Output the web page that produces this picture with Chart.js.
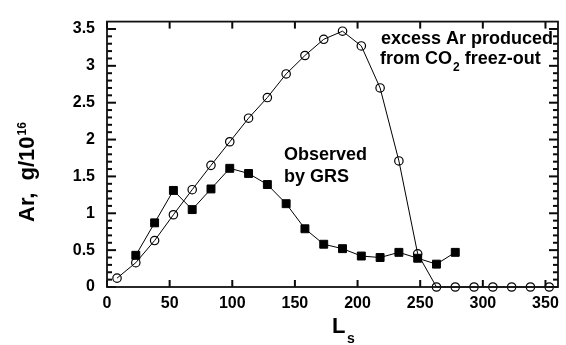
<!DOCTYPE html>
<html>
<head>
<meta charset="utf-8">
<script src="https://cdn.jsdelivr.net/npm/chart.js@4/dist/chart.umd.min.js"></script>
<style>
html,body{margin:0;padding:0;background:#fff;}
canvas{display:block;}
</style>
</head>
<body>
<canvas id="c" width="566" height="345"></canvas>
<script>
// Data
const lsExcess = [8,23,38,53,68,83,98,113,128,143,158,173,188,203,218,233,248,263,278,293,308,323,338,353];
const arExcess = [0.12,0.33,0.63,0.98,1.32,1.65,1.97,2.29,2.57,2.89,3.14,3.36,3.47,3.27,2.70,1.71,0.45,0,0,0,0,0,0,0];
const lsGRS = [23,38,53,68,83,98,113,128,143,158,173,188,203,218,233,248,263,278];
const arGRS = [0.43,0.87,1.31,1.05,1.33,1.61,1.54,1.39,1.13,0.79,0.58,0.52,0.42,0.40,0.47,0.39,0.31,0.47];
const xTickValues = [0,50,100,150,200,250,300,350];
const yTickValues = [0,0.5,1,1.5,2,2.5,3,3.5];
const yMinorStep = 0.1;

const FONT = "'Liberation Sans', Arial, Helvetica, sans-serif";

function drawFrameAndTicks(chart) {
  const ctx = chart.ctx, ca = chart.chartArea;
  const xs = chart.scales.x, ys = chart.scales.y;
  ctx.save();
  ctx.globalCompositeOperation = 'source-over';
  ctx.globalAlpha = 1;
  ctx.strokeStyle = 'rgb(10,10,10)';
  ctx.lineWidth = 2;
  const segs = [];
  for (const v of xTickValues) {
    const px = xs.getPixelForValue(v);
    segs.push([px, ca.top, px, ca.top + 7]);
    segs.push([px, ca.bottom, px, ca.bottom - 7]);
  }
  for (const v of yTickValues) {
    const py = ys.getPixelForValue(v);
    segs.push([ca.right, py, ca.right - 9, py]);
    segs.push([ca.left, py, ca.left + 9, py]);
  }
  const nMinor = Math.round(ys.max / yMinorStep);
  for (let i = 1; i < nMinor; i++) {
    if (i % 5 === 0) continue;
    const py = ys.getPixelForValue(i * yMinorStep);
    segs.push([ca.left, py, ca.left + 5, py]);
    segs.push([ca.right, py, ca.right - 5, py]);
  }
  for (const s of segs) {
    ctx.beginPath();
    ctx.moveTo(s[0], s[1]);
    ctx.lineTo(s[2], s[3]);
    ctx.stroke();
  }
  ctx.lineWidth = 1.8;
  ctx.strokeStyle = '#111';
  ctx.strokeRect(ca.left, ca.top, ca.right - ca.left, ca.bottom - ca.top);
  ctx.restore();
}

const framePlugin = {
  id: 'frame',
  afterDraw(chart) {
    drawFrameAndTicks(chart);
    const ctx = chart.ctx;
    ctx.save();
    ctx.fillStyle = '#000';
    ctx.textAlign = 'left';
    ctx.textBaseline = 'alphabetic';
    // Y axis title
    ctx.save();
    ctx.translate(34, 222);
    ctx.rotate(-Math.PI / 2);
    ctx.font = 'bold 22px ' + FONT;
    const t1 = 'Ar,  g/10';
    ctx.fillText(t1, 0, 0);
    const w1 = ctx.measureText(t1).width;
    ctx.font = 'bold 12px ' + FONT;
    ctx.fillText('16', w1 + 1, -8);
    ctx.restore();
    // X axis title
    ctx.font = 'bold 22px ' + FONT;
    ctx.fillText('L', 332, 333);
    ctx.font = 'bold 14px ' + FONT;
    ctx.fillText('s', 347, 343);
    // annotations
    ctx.font = 'bold 18px ' + FONT;
    ctx.fillText('excess Ar produced', 381, 44);
    const p1 = 'from CO';
    ctx.fillText(p1, 380, 64);
    let x = 380 + ctx.measureText(p1).width + 1;
    ctx.font = 'bold 12px ' + FONT;
    ctx.fillText('2', x, 71);
    x += ctx.measureText('2').width;
    ctx.font = 'bold 18px ' + FONT;
    ctx.fillText(' freez-out', x, 64);
    ctx.fillText('Observed', 284, 160);
    ctx.fillText('by GRS', 284, 182);
    ctx.restore();
  }
};

const excessData = lsExcess.map((x, i) => ({x: x, y: arExcess[i]}));
const grsData = lsGRS.map((x, i) => ({x: x, y: arGRS[i]}));

new Chart(document.getElementById('c'), {
  type: 'line',
  data: {
    datasets: [
      {
        label: 'Observed by GRS',
        data: grsData,
        borderColor: '#000',
        borderWidth: 1,
        backgroundColor: '#000',
        pointStyle: 'rect',
        pointRadius: 5.6,
        pointBorderWidth: 1,
        pointBorderColor: '#000',
        pointBackgroundColor: '#000',
        tension: 0,
        clip: false,
        order: 0
      },
      {
        label: 'excess Ar produced from CO2 freez-out',
        data: excessData,
        borderColor: '#000',
        borderWidth: 1,
        pointStyle: 'circle',
        pointRadius: 4.2,
        pointBorderWidth: 1.2,
        pointBorderColor: '#000',
        pointBackgroundColor: 'rgba(0,0,0,0)',
        tension: 0,
        clip: false,
        order: 1
      }
    ]
  },
  options: {
    responsive: false,
    animation: false,
    devicePixelRatio: 1,
    layout: { padding: { left: 0, top: 14, right: 2, bottom: 0 } },
    plugins: { legend: { display: false }, tooltip: { enabled: false } },
    scales: {
      x: {
        type: 'linear',
        min: 0, max: 360,
        grid: { display: true, drawOnChartArea: false, drawTicks: true, tickLength: 0, tickWidth: 0, tickColor: 'rgba(0,0,0,0)' },
        border: { display: false },
        afterBuildTicks: s => { s.ticks = xTickValues.map(v => ({value: v})); },
        afterFit: s => { s.height = 58; },
        ticks: {
          padding: 7,
          color: '#000',
          font: { family: FONT, size: 16, weight: 'bold' },
          maxRotation: 0,
          autoSkip: false,
          callback: v => String(v)
        }
      },
      y: {
        type: 'linear',
        min: 0, max: 3.6,
        grid: { display: true, drawOnChartArea: false, drawTicks: true, tickLength: 0, tickWidth: 0, tickColor: 'rgba(0,0,0,0)' },
        border: { display: false },
        afterBuildTicks: s => { s.ticks = yTickValues.map(v => ({value: v})); },
        afterFit: s => { s.width = 107; },
        ticks: {
          padding: 12,
          color: '#000',
          font: { family: FONT, size: 16, weight: 'bold' },
          autoSkip: false,
          callback: v => String(v)
        }
      }
    }
  },
  plugins: [framePlugin]
});
</script>
</body>
</html>
